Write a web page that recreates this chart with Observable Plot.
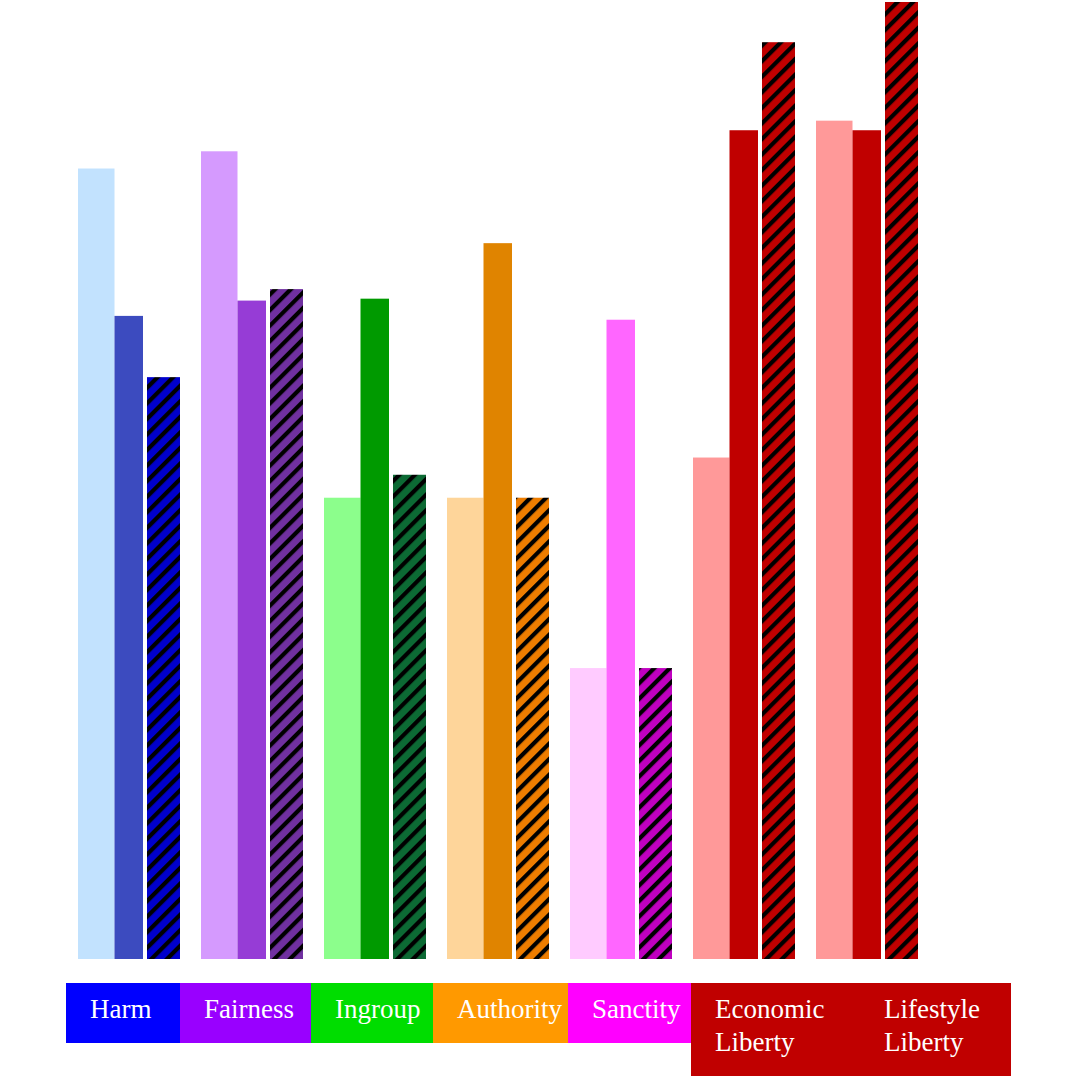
<!DOCTYPE html>
<html>
<head>
<meta charset="utf-8">
<script src="https://cdn.jsdelivr.net/npm/d3@7"></script>
<script src="https://cdn.jsdelivr.net/npm/@observablehq/plot@0.6"></script>
<style>
  html, body { margin: 0; padding: 0; background: #fff; }
  #chart { position: relative; width: 1080px; height: 1080px; }
  #chart svg { display: block; }
  #labels { position: absolute; top: 983px; left: 66px; display: flex; align-items: flex-start; }
  .lab { box-sizing: border-box; padding: 10px 8px 17px 24px; color: #fff;
         font-family: "Liberation Serif", "Times New Roman", serif; font-size: 27px; line-height: 33px; }
</style>
</head>
<body>
<div id="chart"><div id="labels"></div></div>
<script>
// ---- data ----
const categories = ["Harm", "Fairness", "Ingroup", "Authority", "Sanctity", "Economic Liberty", "Lifestyle Liberty"];
const labelLines = [["Harm"], ["Fairness"], ["Ingroup"], ["Authority"], ["Sanctity"], ["Economic", "Liberty"], ["Lifestyle", "Liberty"]];
const series = ["Liberals", "Conservatives", "Libertarians"];
const liberals      = [4.13, 4.22, 2.41, 2.41, 1.52, 2.62, 4.38];
const conservatives = [3.36, 3.44, 3.45, 3.74, 3.34, 4.33, 4.33];
const libertarians  = [3.04, 3.50, 2.53, 2.41, 1.52, 4.79, 5.00];

// ---- styles ----
const lightColors  = ["#c2e2fe", "#d59afe", "#8cfe8c", "#fed59a", "#ffcbff", "#ff9999", "#ff9999"];
const mediumColors = ["#3c4bbf", "#963cd6", "#009a00", "#e08400", "#ff66ff", "#c00000", "#c00000"];
const hatchColors  = ["#0000cc", "#7030a0", "#0c6a34", "#ee7d00", "#c000c0", "#c00000", "#c00000"];
const labelColors  = ["#0000ff", "#9900ff", "#00dd00", "#ff9900", "#ff00ff", "#c00000", "#c00000"];
const labelWidths  = [114, 131, 122, 135, 123, 169, 151];

const rows = [];
categories.forEach((c, i) => {
  rows.push({category: c, series: series[0], value: liberals[i], fill: lightColors[i]});
  rows.push({category: c, series: series[1], value: conservatives[i], fill: mediumColors[i]});
  rows.push({category: c, series: series[2], value: libertarians[i], fill: `url(#hatch-${i})`});
});
const bySeries = s => rows.filter(r => r.series === s);

const common = {fx: "category", x: "series", y: "value", fill: "fill"};

const svg = Plot.plot({
  width: 1080,
  height: 975,
  marginTop: 2,
  marginBottom: 16,
  marginLeft: 74,
  marginRight: 158,
  fx: {domain: categories, paddingInner: 0.16, paddingOuter: 0, axis: null},
  x: {domain: series, paddingInner: 0, paddingOuter: 0, axis: null},
  y: {domain: [0, 5], axis: null},
  color: {type: "identity"},
  marks: [
    Plot.barY(bySeries(series[0]), {...common, insetLeft: 0, insetRight: -2.5}),
    Plot.barY(bySeries(series[1]), {...common, insetLeft: 2.5, insetRight: 3}),
    Plot.barY(bySeries(series[2]), {...common, insetLeft: 1, insetRight: 0})
  ]
});

// hatch patterns
const ns = "http://www.w3.org/2000/svg";
const defs = document.createElementNS(ns, "defs");
hatchColors.forEach((col, i) => {
  const p = document.createElementNS(ns, "pattern");
  p.setAttribute("id", `hatch-${i}`);
  p.setAttribute("patternUnits", "userSpaceOnUse");
  p.setAttribute("width", 11);
  p.setAttribute("height", 11);
  p.setAttribute("patternTransform", "rotate(-45)");
  const bg = document.createElementNS(ns, "rect");
  bg.setAttribute("width", 11); bg.setAttribute("height", 11); bg.setAttribute("fill", col);
  const st = document.createElementNS(ns, "rect");
  st.setAttribute("width", 11); st.setAttribute("height", 4.2); st.setAttribute("fill", "#000");
  p.appendChild(bg); p.appendChild(st);
  defs.appendChild(p);
});
svg.insertBefore(defs, svg.firstChild);

const chart = document.getElementById("chart");
chart.insertBefore(svg, chart.firstChild);

// category label boxes
const labels = document.getElementById("labels");
categories.forEach((c, i) => {
  const d = document.createElement("div");
  d.className = "lab";
  d.style.background = labelColors[i];
  d.style.width = labelWidths[i] + "px";
  labelLines[i].forEach((t, k) => {
    if (k) d.appendChild(document.createElement("br"));
    d.appendChild(document.createTextNode(t));
  });
  labels.appendChild(d);
});
</script>
</body>
</html>
